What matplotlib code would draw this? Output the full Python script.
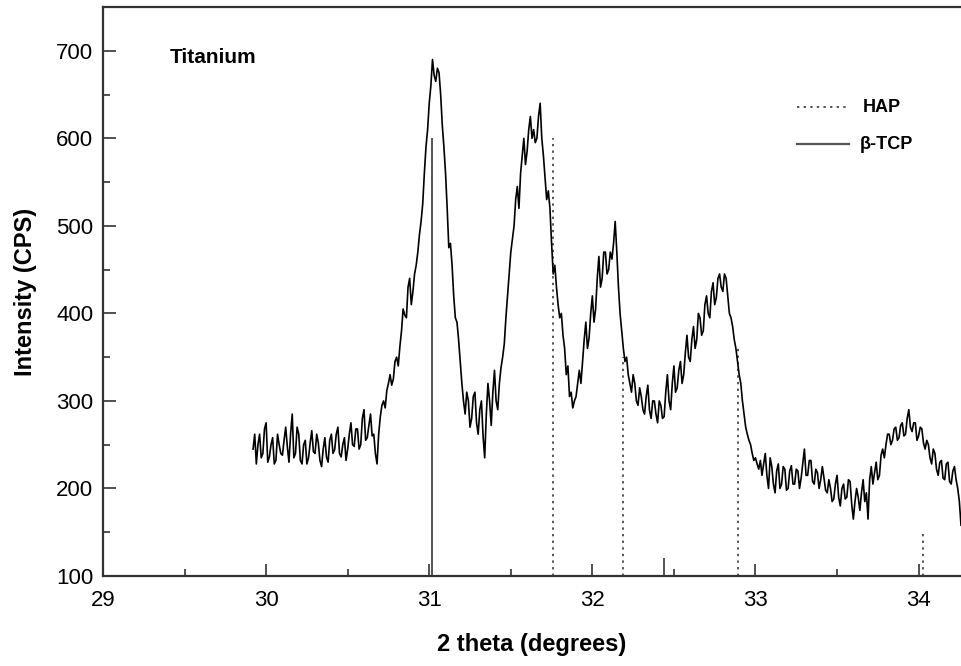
import numpy as np
import matplotlib
matplotlib.use("Agg")
import matplotlib.pyplot as plt

plt.rcParams['font.family'] = ['Liberation Sans', 'DejaVu Sans']

# measured pattern, 2 theta from 29.92 in steps of 0.01 deg
two_theta_start = 29.92
two_theta_step = 0.01
intensity = [
    245, 262, 228, 250, 262, 235, 240, 268, 275, 230,
    236, 250, 258, 228, 232, 262, 250, 240, 238, 255,
    270, 248, 230, 262, 285, 235, 240, 270, 262, 232,
    228, 250, 255, 228, 235, 252, 266, 242, 240, 262,
    252, 232, 225, 245, 258, 236, 230, 255, 262, 240,
    244, 262, 270, 240, 236, 250, 258, 232, 245, 262,
    275, 250, 248, 268, 268, 245, 250, 280, 290, 255,
    258, 272, 285, 260, 262, 240, 228, 262, 282, 295,
    300, 292, 312, 320, 330, 318, 325, 345, 350, 340,
    362, 380, 405, 398, 395, 430, 440, 410, 425, 445,
    455, 470, 490, 505, 525, 560, 590, 610, 640, 660,
    690, 672, 665, 680, 675, 650, 615, 590, 560, 520,
    475, 480, 455, 420, 395, 390, 370, 345, 320, 300,
    285, 310, 300, 270, 280, 305, 310, 275, 262, 290,
    300, 260, 235, 285, 320, 300, 272, 310, 335, 300,
    290, 320, 338, 350, 365, 395, 420, 445, 470, 485,
    500, 530, 545, 520, 560, 580, 600, 570, 585, 610,
    625, 600, 610, 595, 600, 625, 640, 600, 580, 555,
    530, 540, 520, 480, 445, 455, 430, 410, 395, 400,
    375, 360, 330, 340, 305, 310, 292, 300, 305, 320,
    335, 320, 345, 370, 390, 360, 372, 400, 420, 390,
    405, 440, 465, 430, 440, 470, 470, 445, 450, 470,
    462, 480, 505, 470, 430, 400, 380, 360, 345, 350,
    330, 320, 310, 330, 320, 300, 295, 315, 305, 290,
    285, 305, 318, 290, 280, 300, 300, 285, 275, 300,
    295, 280, 282, 310, 330, 300, 290, 320, 340, 310,
    315, 335, 345, 320, 330, 355, 375, 350, 345, 370,
    385, 360, 370, 400, 395, 375, 380, 410, 420, 400,
    395, 425, 435, 410, 418, 440, 445, 430, 425, 445,
    440, 420, 400, 395, 385, 370, 360, 345, 330, 320,
    300, 285, 270, 262, 255, 250, 240, 232, 235, 228,
    222, 232, 215, 228, 240, 215, 200, 235, 225, 205,
    195, 220, 228, 200, 205, 225, 222, 198, 200, 220,
    226, 205, 205, 222, 220, 200, 212, 228, 245, 215,
    215, 232, 232, 208, 205, 222, 218, 200, 210, 225,
    212, 198, 195, 210, 200, 185, 188, 205, 215, 190,
    180, 200, 205, 188, 190, 210, 208, 182, 165, 185,
    200, 190, 175, 195, 210, 185, 195, 165, 210, 225,
    205, 218, 230, 210, 215, 238, 245, 235, 250, 262,
    262, 250, 255, 268, 270, 255, 258, 272, 275, 260,
    262, 280, 290, 270, 265, 275, 275, 255, 260, 270,
    268, 252, 245, 255, 250, 235, 228, 245, 240, 222,
    215, 230, 232, 212, 210, 228, 230, 208, 205, 220,
    225, 210, 200, 185, 158,
]
two_theta = two_theta_start + two_theta_step * np.arange(len(intensity))

# reference peak positions and heights
hap_pos = [31.76, 32.19, 32.89, 34.03]
hap_int = [600, 350, 360, 150]
tcp_pos = [31.02, 32.44]
tcp_int = [600, 120]

fig = plt.figure(figsize=(9.61, 6.66), dpi=100)
ax = fig.add_axes([103 / 961, 90 / 666, 858 / 961, 569 / 666])

ax.vlines(hap_pos, 100, hap_int, colors='#555555', linestyles=(0, (1.2, 2.2)),
          linewidth=1.4, zorder=1)
ax.vlines(tcp_pos, 100, tcp_int, colors='#555555', linewidth=1.4, zorder=1)
ax.plot(two_theta, intensity, color='black', linewidth=1.2, zorder=2)

ax.set_xlim(29, 34.26)
ax.set_ylim(100, 750)
ax.set_xticks([29, 30, 31, 32, 33, 34])
ax.set_xticks(np.arange(29.5, 34.3, 1.0), minor=True)
ax.set_yticks([100, 200, 300, 400, 500, 600, 700])
ax.set_yticks(np.arange(150, 751, 100), minor=True)
ax.tick_params(which='both', direction='in', width=1.2, color='#333333',
               labelsize=16)
ax.tick_params(axis='x', pad=10)
ax.tick_params(axis='y', pad=7)
ax.tick_params(which='major', length=9)
ax.tick_params(which='minor', length=5)

for side in ['left', 'bottom', 'top']:
    ax.spines[side].set_linewidth(1.6)
    ax.spines[side].set_color('#333333')
ax.spines['right'].set_visible(False)

ax.set_xlabel('2 theta (degrees)', fontsize=17, fontweight='bold', labelpad=16)
ax.set_ylabel('Intensity (CPS)', fontsize=17, fontweight='bold', labelpad=14)

ax.text(0.078, 0.912, 'Titanium', transform=ax.transAxes, fontsize=15,
        fontweight='bold', va='center', ha='left')

# legend drawn by hand
ax.plot([0.809, 0.869], [0.824, 0.824], transform=ax.transAxes, color='#555555',
        linestyle=(0, (1.2, 2.2)), linewidth=1.4)
ax.text(0.885, 0.824, 'HAP', transform=ax.transAxes, fontsize=13,
        fontweight='bold', va='center', ha='left')
ax.plot([0.809, 0.869], [0.759, 0.759], transform=ax.transAxes, color='#555555',
        linewidth=1.6)
ax.text(0.882, 0.759, 'β-TCP', transform=ax.transAxes, fontsize=13,
        fontweight='bold', va='center', ha='left')

plt.savefig('out.png', dpi=100)
